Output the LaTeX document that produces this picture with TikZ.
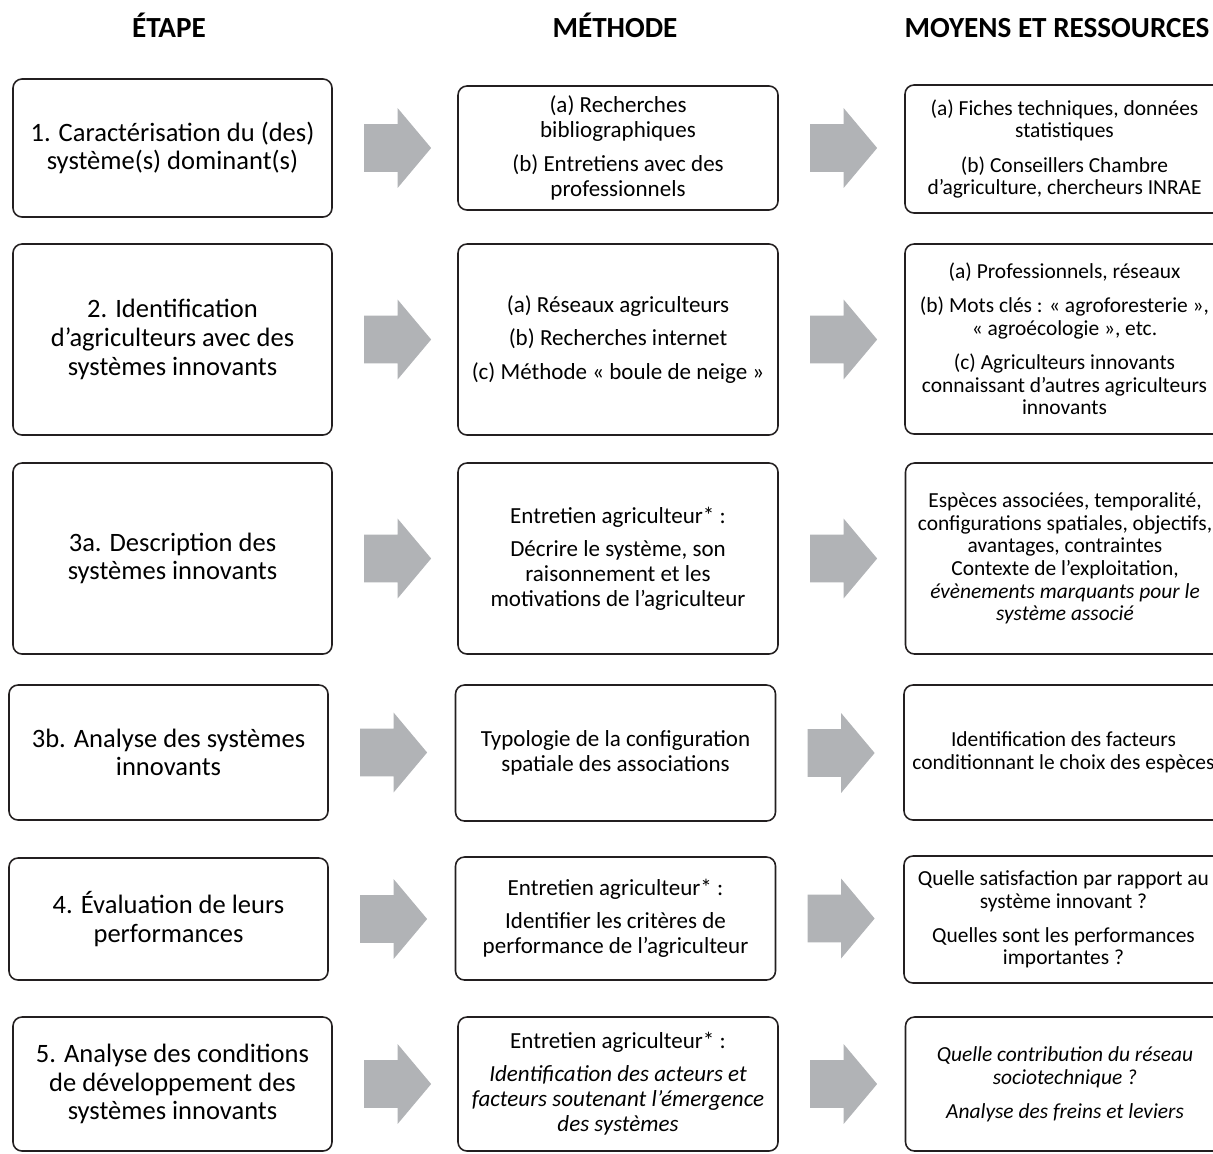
\documentclass[tikz,border=0pt]{standalone}
\usepackage{fontspec}
\setmainfont{Carlito}
\usepackage{tikz}
\usetikzlibrary{positioning, shapes.arrows}
\usepackage{xcolor}

\definecolor{boxline}{HTML}{231F20}
\definecolor{arrowgray}{HTML}{B1B3B6}
\newcommand{\px}{0.02cm}

\begin{document}
\begin{tikzpicture}[
  x=0.02cm, y=-0.02cm,
  box/.style={draw=boxline, line width=0.9pt, rounded corners=0.18cm,
    align=center, inner sep=0pt},
  stepbox/.style={box, minimum width=319*\px, font=\fontsize{15.1}{16.3}\selectfont},
  methbox/.style={box, minimum width=320*\px, font=\fontsize{13.1}{14.2}\selectfont},
  resbox/.style={box, minimum width=319*\px, font=\fontsize{12.2}{12.9}\selectfont},
  colhead/.style={anchor=base, font=\fontsize{16.6}{18}\selectfont\bfseries},
  blockarrow/.style={single arrow, draw=none, fill=arrowgray,
    inner xsep=0pt, inner ysep=23.5*\px,
    minimum height=67*\px, minimum width=79*\px,
    single arrow head extend=16*\px, single arrow tip angle=100}
]
  \clip (0,0) rectangle (1213,1153);

  % --- column headers ---
  \node[colhead] (hstep) at (169,37) {ÉTAPE};
  \node[colhead] (hmeth) at (615,37) {MÉTHODE};
  \node[colhead] (hres)  at (1057,37) {MOYENS ET RESSOURCES};

  % --- étapes ---
  \node[stepbox, minimum height=138*\px] (s1) at (172.5,148)
    {1. Caractérisation du (des)\\système(s) dominant(s)};
  \node[stepbox, minimum height=191*\px] (s2) at (172.5,339.5)
    {2. Identification\\d’agriculteurs avec des\\systèmes innovants};
  \node[stepbox, minimum height=191*\px] (s3a) at (172.5,558.5)
    {3a. Description des\\systèmes innovants};
  \node[stepbox, minimum height=135*\px] (s3b) at (168.5,752.5)
    {3b. Analyse des systèmes\\innovants};
  \node[stepbox, minimum height=122*\px] (s4) at (168.5,919)
    {4. Évaluation de leurs\\performances};
  \node[stepbox, minimum height=134*\px] (s5) at (172.5,1084)
    {5. Analyse des conditions\\de développement des\\systèmes innovants};

  % --- méthodes ---
  \node[methbox, minimum height=124*\px] (m1) at (618,148)
    {(a) Recherches\\bibliographiques\\[5pt](b) Entretiens avec des\\professionnels};
  \node[methbox, minimum height=191*\px] (m2) at (618,339.5)
    {(a) Réseaux agriculteurs\\[5pt](b) Recherches internet\\[5pt](c) Méthode «~boule de neige~»};
  \node[methbox, minimum height=191*\px] (m3a) at (618,558.5)
    {Entretien agriculteur* :\\[4.5pt]Décrire le système, son\\raisonnement et les\\motivations de l’agriculteur};
  \node[methbox, minimum height=136*\px] (m3b) at (615.5,753)
    {Typologie de la configuration\\spatiale des associations};
  \node[methbox, minimum height=123*\px] (m4) at (615.5,918.5)
    {Entretien agriculteur* :\\[4.5pt]Identifier les critères de\\performance de l’agriculteur};
  \node[methbox, minimum height=134*\px] (m5) at (618,1084)
    {Entretien agriculteur* :\\[4.5pt]\itshape Identification des acteurs et\\\itshape facteurs soutenant l’émergence\\\itshape des systèmes};

  % --- moyens et ressources ---
  \node[resbox, minimum height=128*\px] (r1) at (1064.5,149)
    {(a) Fiches techniques, données\\statistiques\\[6.5pt](b) Conseillers Chambre\\d’agriculture, chercheurs INRAE};
  \node[resbox, minimum height=190*\px] (r2) at (1064.5,339)
    {(a) Professionnels, réseaux\\[6.5pt](b) Mots clés : «~agroforesterie~»,\\«~agroécologie~», etc.\\[6.5pt](c) Agriculteurs innovants\\connaissant d’autres agriculteurs\\innovants};
  \node[resbox, minimum height=191*\px] (r3a) at (1065,558.5)
    {Espèces associées, temporalité,\\configurations spatiales, objectifs,\\avantages, contraintes\\Contexte de l’exploitation,\\\itshape évènements marquants pour le\\\itshape système associé};
  \node[resbox, minimum height=135*\px] (r3b) at (1063.5,752.5)
    {Identification des facteurs\\conditionnant le choix des espèces};
  \node[resbox, minimum height=127*\px] (r4) at (1063.5,919.5)
    {Quelle satisfaction par rapport au\\système innovant ?\\[6.5pt]Quelles sont les performances\\importantes ?};
  \node[resbox, minimum height=134*\px] (r5) at (1065,1084)
    {\itshape Quelle contribution du réseau\\\itshape sociotechnique ?\\[6.5pt]\itshape Analyse des freins et leviers};

  % --- block arrows between columns ---
  \foreach \row in {1,2,3a,3b,4,5} {
    \node[blockarrow, right=0.62cm of s\row] (sa\row) {};
    \node[blockarrow, right=0.62cm of m\row] (ma\row) {};
  }
\end{tikzpicture}
\end{document}
